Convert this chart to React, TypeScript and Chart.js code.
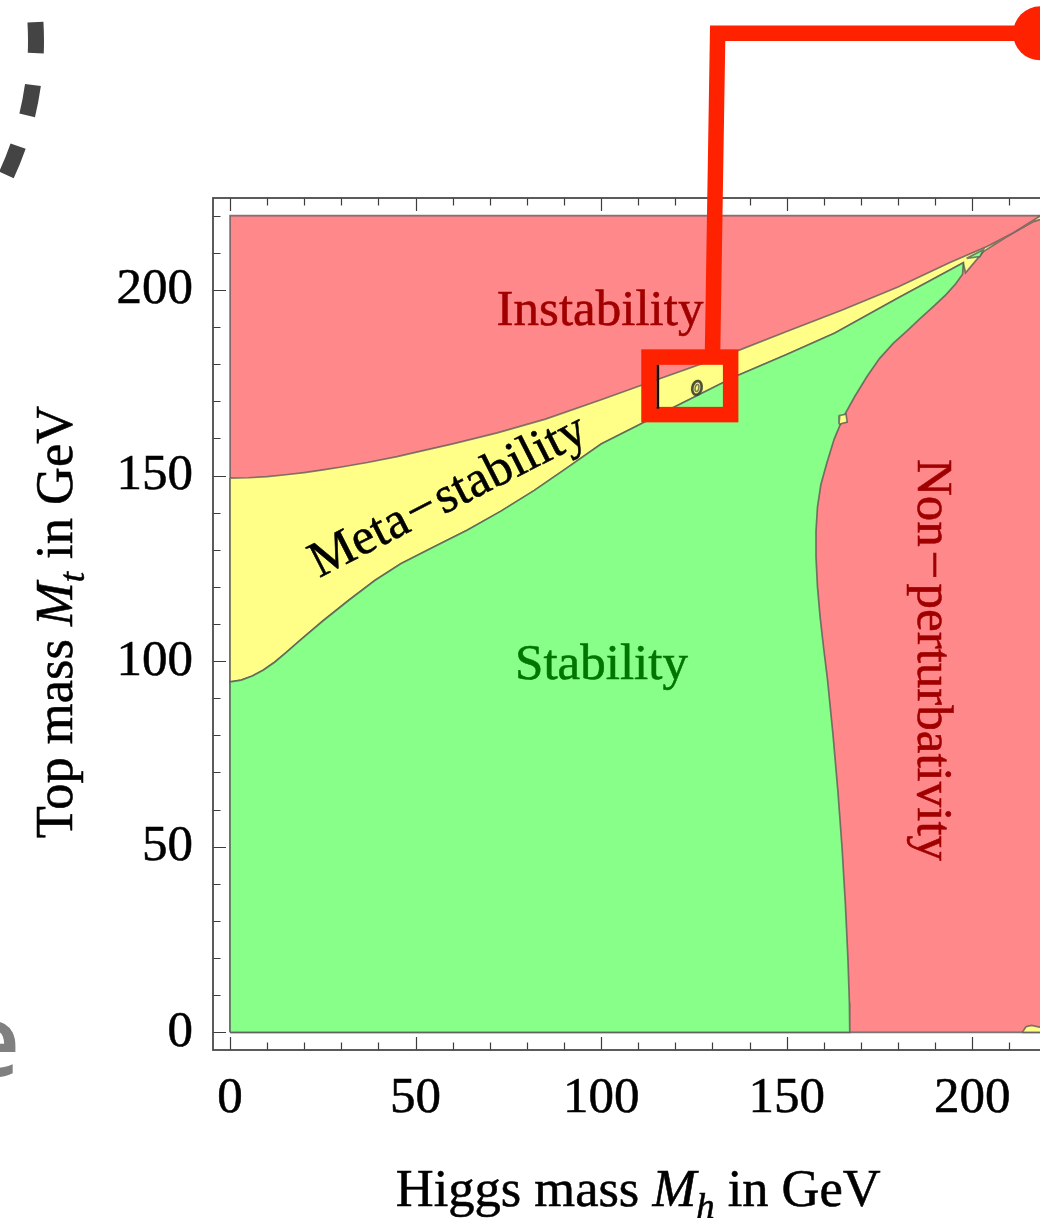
import React, { useEffect, useRef } from 'react';
import { Chart, registerables } from 'chart.js';

Chart.register(...registerables);

const SERIF = '"Liberation Serif", "Times New Roman", Times, serif';
const FONT_SIZE = 51;
const TITLE_SIZE = 52.5;

const CANVAS_W = 1100;
const CANVAS_H = 1218;

// Axis ranges (frame is padded around the scanned 0..220 GeV square)
const X_MIN = -4.6;
const X_MAX = 224.6;
const Y_MIN = -4.75;
const Y_MAX = 224.75;
const TICK_VALUES = [0, 10, 20, 30, 40, 50, 60, 70, 80, 90, 100, 110, 120, 130, 140, 150, 160, 170, 180, 190, 200, 210, 220];
const LABELLED_TICKS = [0, 50, 100, 150, 200];

// Scanned parameter square
const REGION_X = [0, 220, 220, 0];
const REGION_Y = [0, 0, 220, 220];

// Instability / meta-stability border (Mh -> Mt)
const instabilityX = [0, 5, 10, 15, 20, 25, 30, 37, 45, 52, 60, 72, 85, 100, 115, 135, 150, 165, 180, 194, 204, 211, 218.5];
const instabilityY = [149.3, 149.4, 149.7, 150.2, 150.8, 151.5, 152.3, 153.5, 155.1, 156.7, 158.5, 161.5, 165.2, 170.4, 175.8, 182.9, 188.8, 194.6, 200.8, 207.4, 211.7, 215.3, 220];

// Meta-stable sliver beyond the tip of the stable region (right to left)
const metaTailX = [220, 216.5, 209.3, 203, 198.2];
const metaTailY = [219.5, 218.4, 214.3, 210.3, 204.6];

// Meta-stability / stability border
const stabilityX = [0, 3, 6, 9, 12, 15, 19, 25, 32, 39, 46, 55, 64, 73, 82, 91, 100, 118, 136, 150, 163, 180, 197.6];
const stabilityY = [94.4, 94.9, 96.0, 97.6, 99.7, 102.2, 105.7, 110.8, 116.4, 121.7, 126.2, 130.8, 135.3, 140.4, 146, 152.2, 158.5, 167.6, 176.6, 182.6, 188.4, 197.8, 207.3];

// Stability / non-perturbativity border (top to bottom)
const perturbativityX = [197.6, 197.4, 195.5, 193, 189.5, 186, 182.5, 178.7, 175, 171.6, 168.3, 165.3, 162.8, 160.8, 159.2, 158.3, 157.9, 157.9, 158.3, 159.0, 159.9, 161, 162.5, 163.8, 164.9, 165.8, 166.5, 166.9, 167];
const perturbativityY = [207.3, 204.2, 201.6, 198.8, 195.5, 192.3, 189, 185.6, 181.5, 176.6, 171.2, 165.8, 159.8, 153.3, 147.5, 141.5, 135, 128, 120, 112, 104, 95, 80, 65, 50, 35, 20, 8, 0];

// Small islands left by the scan grid
const yellowSpeckX = [164.1, 166.3, 166.0, 164.3];
const yellowSpeckY = [163.8, 164.4, 166.5, 166.2];
const greenSpeckX = [198.5, 203.0, 202.1];
const greenSpeckY = [208.5, 210.8, 209.0];
const yellowBumpX = [213.5, 214.5, 216, 220, 220];
const yellowBumpY = [0, 1.5, 1.9, 1.0, 0];

// Measured Higgs / top masses
const MEASURED_MH = [125.8];
const MEASURED_MT = [173.6];

// Zoom box and leader of the callout, in GeV
const CALLOUT_BOX_X = [112.9, 134.9];
const CALLOUT_BOX_Y = [166.4, 181.9];
const CALLOUT_LEADER_X = [130.0, 131.4, 218.3];
const CALLOUT_LEADER_Y = [181.9, 269.1, 269.1];
const CALLOUT_EDGE_X = [115.3, 115.3];
const CALLOUT_EDGE_Y = [168.0, 179.8];

type Seg = { t: string; it?: boolean; sub?: boolean; gap?: number };

const REGION_LABELS: { segs: Seg[]; x: number; y: number; angle: number; color: string }[] = [
  { segs: [{ t: 'Instability' }], x: 99.7, y: 190.6, angle: 0, color: '#a00000' },
  { segs: [{ t: 'Meta' }, { t: '', gap: 3 }, { t: '\u2212' }, { t: '', gap: 3 }, { t: 'stability' }], x: 60.5, y: 141.0, angle: -27, color: '#000000' },
  { segs: [{ t: 'Stability' }], x: 100.1, y: 95.2, angle: 0, color: '#007500' },
  { segs: [{ t: 'Non' }, { t: '', gap: 4 }, { t: '\u2212' }, { t: '', gap: 4 }, { t: 'perturbativity' }], x: 185.4, y: 100.3, angle: 90, color: '#a00000' },
];

const RED = 'rgb(255,136,138)';
const GREEN = 'rgb(136,255,136)';
const YELLOW = 'rgb(255,255,136)';
const EDGE = 'rgba(85,85,85,0.75)';
const CALLOUT_RED = 'rgb(255,34,0)';

type Pt = { x: number; y: number };
const pts = (xs: number[], ys: number[]): Pt[] => xs.map((x, i) => ({ x, y: ys[i] }));
const closed = (p: Pt[]): Pt[] => [...p, p[0]];

const regionPoly = closed(pts(REGION_X, REGION_Y));
const metaPoly = closed([
  ...pts(instabilityX, instabilityY),
  ...pts(metaTailX, metaTailY),
  ...pts(stabilityX, stabilityY).reverse(),
]);
const stablePoly = closed([
  { x: REGION_X[0], y: REGION_Y[0] },
  ...pts(stabilityX, stabilityY),
  ...pts(perturbativityX, perturbativityY).slice(1),
]);

function area(data: Pt[], fill: string, order: number, border = EDGE) {
  return {
    type: 'line' as const,
    data,
    order,
    fill: 'shape' as const,
    backgroundColor: fill,
    borderColor: border,
    borderWidth: 1.7,
    pointRadius: 0,
    pointHoverRadius: 0,
    tension: 0,
  };
}

function ringMarker(): HTMLCanvasElement {
  const c = document.createElement('canvas');
  c.width = 16;
  c.height = 22;
  const g = c.getContext('2d')!;
  g.strokeStyle = 'rgba(60,62,48,0.92)';
  g.lineWidth = 2.6;
  g.beginPath();
  g.ellipse(8, 11, 4.6, 7, 0.2, 0, Math.PI * 2);
  g.stroke();
  g.strokeStyle = 'rgba(60,62,48,0.7)';
  g.lineWidth = 1.5;
  g.beginPath();
  g.ellipse(8, 11, 1.8, 3.6, 0.2, 0, Math.PI * 2);
  g.stroke();
  return c;
}

function richFont(s: Seg, size: number) {
  const sz = s.sub ? size * 0.7 : size;
  return `${s.it ? 'italic ' : ''}${sz}px ${SERIF}`;
}

function drawRich(ctx: CanvasRenderingContext2D, segs: Seg[], cx: number, baseline: number, size: number, weight = 0.55) {
  let total = 0;
  const widths = segs.map((s) => {
    if (s.gap) {
      total += s.gap;
      return s.gap;
    }
    ctx.font = richFont(s, size);
    const w = ctx.measureText(s.t).width;
    total += w;
    return w;
  });
  let x = cx - total / 2;
  ctx.textAlign = 'left';
  ctx.textBaseline = 'alphabetic';
  ctx.lineWidth = weight;
  ctx.strokeStyle = ctx.fillStyle as string;
  segs.forEach((s, i) => {
    if (!s.gap && s.t) {
      ctx.font = richFont(s, size);
      const yy = baseline + (s.sub ? size * 0.22 : 0);
      ctx.fillText(s.t, x, yy);
      if (weight > 0) ctx.strokeText(s.t, x, yy);
    }
    x += widths[i];
  });
}

const X_TITLE: Seg[] = [{ t: 'Higgs mass ' }, { t: 'M', it: true }, { t: 'h', it: true, sub: true }, { t: ' in GeV' }];
const Y_TITLE: Seg[] = [{ t: 'Top mass ' }, { t: 'M', it: true }, { t: 't', it: true, sub: true }, { t: ' in GeV' }];

const framePlugin = {
  id: 'frameAndLabels',
  afterDatasetsDraw(chart: any) {
    const { ctx, chartArea: a, scales } = chart;
    const sx = scales.x;
    const sy = scales.y;
    ctx.save();

    // region names
    for (const L of REGION_LABELS) {
      ctx.save();
      ctx.translate(sx.getPixelForValue(L.x), sy.getPixelForValue(L.y));
      ctx.rotate((L.angle * Math.PI) / 180);
      ctx.fillStyle = L.color;
      drawRich(ctx, L.segs, 0, 0, FONT_SIZE);
      ctx.restore();
    }

    // inward ticks on all four sides
    ctx.strokeStyle = '#3c3c3c';
    ctx.lineWidth = 1.2;
    ctx.beginPath();
    for (const v of TICK_VALUES) {
      const len = LABELLED_TICKS.includes(v) ? 13 : 7.5;
      const px = Math.round(sx.getPixelForValue(v)) + 0.5;
      const py = Math.round(sy.getPixelForValue(v)) + 0.5;
      ctx.moveTo(px, a.bottom);
      ctx.lineTo(px, a.bottom - len);
      ctx.moveTo(px, a.top);
      ctx.lineTo(px, a.top + len);
      ctx.moveTo(a.left, py);
      ctx.lineTo(a.left + len, py);
      ctx.moveTo(a.right, py);
      ctx.lineTo(a.right - len, py);
    }
    ctx.stroke();

    // frame
    ctx.strokeStyle = '#4a4a4a';
    ctx.lineWidth = 1.8;
    ctx.strokeRect(a.left, a.top, a.right - a.left, a.bottom - a.top);

    // axis titles
    ctx.fillStyle = '#000000';
    drawRich(ctx, X_TITLE, (a.left + a.right) / 2, 1206, TITLE_SIZE);
    ctx.save();
    ctx.translate(72, (a.top + a.bottom) / 2 - 2);
    ctx.rotate(-Math.PI / 2);
    ctx.fillStyle = '#000000';
    drawRich(ctx, Y_TITLE, 0, 0, TITLE_SIZE);
    ctx.restore();

    ctx.restore();
  },
  afterDraw(chart: any) {
    const { ctx, scales } = chart;
    const sx = scales.x;
    const sy = scales.y;
    const X = (v: number) => sx.getPixelForValue(v);
    const Y = (v: number) => sy.getPixelForValue(v);
    ctx.save();

    // callout: zoom box, leader, dot
    ctx.strokeStyle = CALLOUT_RED;
    ctx.lineWidth = 15.5;
    ctx.lineJoin = 'miter';
    ctx.lineCap = 'butt';
    const bx0 = X(CALLOUT_BOX_X[0]);
    const bx1 = X(CALLOUT_BOX_X[1]);
    const byTop = Y(CALLOUT_BOX_Y[1]);
    const byBot = Y(CALLOUT_BOX_Y[0]);
    ctx.strokeRect(bx0, byTop, bx1 - bx0, byBot - byTop);
    ctx.beginPath();
    CALLOUT_LEADER_X.forEach((v, i) => {
      const px = X(v);
      const py = Y(CALLOUT_LEADER_Y[i]);
      if (i === 0) ctx.moveTo(px, py);
      else ctx.lineTo(px, py);
    });
    ctx.stroke();
    ctx.fillStyle = CALLOUT_RED;
    ctx.beginPath();
    ctx.arc(X(CALLOUT_LEADER_X[2]), Y(CALLOUT_LEADER_Y[2]), 27, 0, Math.PI * 2);
    ctx.fill();

    ctx.strokeStyle = '#111111';
    ctx.lineWidth = 2.5;
    ctx.beginPath();
    ctx.moveTo(X(CALLOUT_EDGE_X[0]), Y(CALLOUT_EDGE_Y[0]));
    ctx.lineTo(X(CALLOUT_EDGE_X[1]), Y(CALLOUT_EDGE_Y[1]));
    ctx.stroke();

    // slide decorations around the figure
    ctx.strokeStyle = '#444444';
    ctx.lineWidth = 16;
    ctx.setLineDash([31, 32]);
    ctx.beginPath();
    ctx.arc(-282, 41, 318, (-3.4 * Math.PI) / 180, (45 * Math.PI) / 180);
    ctx.stroke();
    ctx.setLineDash([]);

    ctx.fillStyle = '#808080';
    ctx.font = '600 100px "Open Sans", "DejaVu Sans", sans-serif';
    ctx.textAlign = 'right';
    ctx.textBaseline = 'alphabetic';
    ctx.fillText('e', 20, 1076);

    ctx.restore();
  },
};

export default function App() {
  const ref = useRef<HTMLCanvasElement | null>(null);

  useEffect(() => {
    const canvas = ref.current;
    if (!canvas) return;

    const tickFont = { family: SERIF, size: FONT_SIZE };
    const setTicks = (s: any) => {
      s.ticks = TICK_VALUES.map((v) => ({ value: v }));
    };
    const tickLabel = (v: any) => (LABELLED_TICKS.includes(Number(v)) ? String(v) : '');

    const chart = new Chart(canvas, {
      type: 'line',
      data: {
        datasets: [
          area(regionPoly, RED, 5, 'rgba(90,90,90,0.8)'),
          area(metaPoly, YELLOW, 4),
          area(stablePoly, GREEN, 3),
          area(closed(pts(yellowSpeckX, yellowSpeckY)), YELLOW, 1),
          area(closed(pts(greenSpeckX, greenSpeckY)), GREEN, 1),
          area(closed(pts(yellowBumpX, yellowBumpY)), YELLOW, 1),
          {
            type: 'line',
            data: pts(MEASURED_MH, MEASURED_MT),
            order: 0,
            showLine: false,
            pointStyle: ringMarker(),
            pointRadius: 6,
          } as any,
        ],
      },
      options: {
        responsive: false,
        devicePixelRatio: 1,
        animation: false,
        events: [],
        layout: { padding: { left: 0, top: 198, right: CANVAS_W - 1063.5, bottom: 68 } },
        plugins: { legend: { display: false }, tooltip: { enabled: false } },
        scales: {
          x: {
            type: 'linear',
            min: X_MIN,
            max: X_MAX,
            afterBuildTicks: setTicks,
            afterFit: (s: any) => {
              s.height = 100;
            },
            grid: { display: false, drawTicks: false },
            border: { display: false },
            ticks: {
              autoSkip: false,
              minRotation: 0,
              maxRotation: 0,
              padding: 18,
              color: '#000',
              textStrokeColor: '#000',
              textStrokeWidth: 0.55,
              font: tickFont,
              callback: tickLabel,
            },
          },
          y: {
            type: 'linear',
            min: Y_MIN,
            max: Y_MAX,
            afterBuildTicks: setTicks,
            afterFit: (s: any) => {
              s.width = 213;
            },
            grid: { display: false, drawTicks: false },
            border: { display: false },
            ticks: {
              autoSkip: false,
              padding: 20,
              color: '#000',
              textStrokeColor: '#000',
              textStrokeWidth: 0.55,
              font: tickFont,
              callback: tickLabel,
            },
          },
        },
      },
      plugins: [framePlugin],
    } as any);

    return () => chart.destroy();
  }, []);

  return (
    <div
      style={{
        position: 'fixed',
        left: 0,
        top: 0,
        width: 1040,
        height: 1218,
        overflow: 'hidden',
        background: '#ffffff',
      }}
    >
      <canvas
        ref={ref}
        width={CANVAS_W}
        height={CANVAS_H}
        style={{ display: 'block', width: CANVAS_W, height: CANVAS_H }}
      />
    </div>
  );
}
